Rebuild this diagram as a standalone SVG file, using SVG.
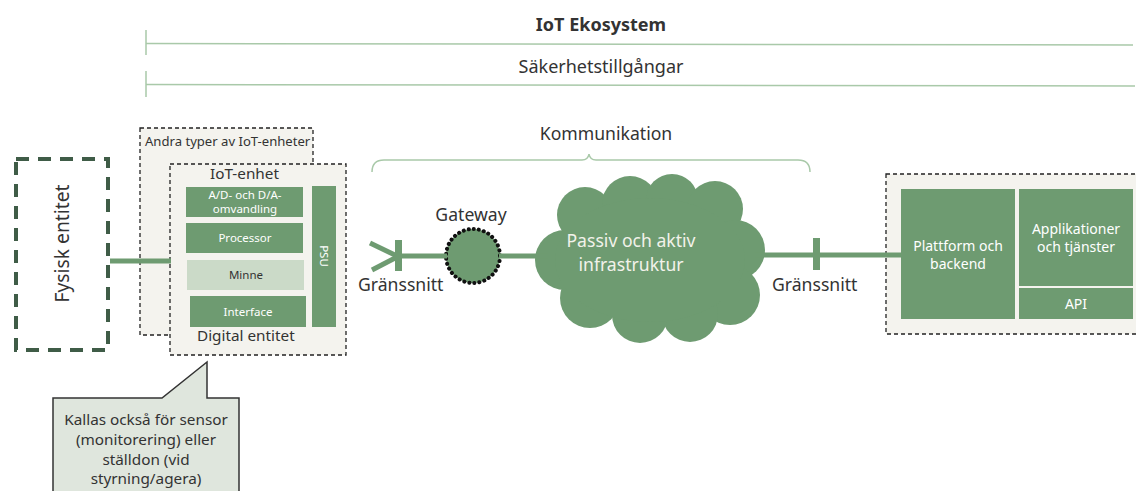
<svg xmlns="http://www.w3.org/2000/svg" width="1136" height="491" viewBox="0 0 1136 491">
  <style>
    text { font-family: "Noto Sans", "Open Sans", "Liberation Sans", sans-serif; fill: #333; }
    .hdr { font-size: 18px; text-anchor: middle; }
    .lbl { font-size: 17.6px; }
    .sub { font-size: 15.3px; }
    .wt { fill: #ffffff; font-size: 11.5px; text-anchor: middle; }
    .wt2 { fill: #ffffff; font-size: 14px; text-anchor: middle; }
    .blk { fill: #6e9b71; }
    .scope { stroke: #a9c9a9; stroke-width: 1.5; fill: none; }
    .wire { stroke: #6e9b71; stroke-width: 5; fill: none; }
    .frame { fill: #f4f3ee; stroke: #222; stroke-width: 1.3; stroke-dasharray: 4 3; }
  </style>

  <!-- scope bars -->
  <g id="scope">
    <text class="hdr" x="601" y="31" font-weight="bold" font-size="17.6">IoT Ekosystem</text>
    <line class="scope" x1="146" y1="30" x2="146" y2="55"/>
    <line class="scope" x1="146" y1="43.5" x2="1133" y2="45"/>
    <text class="hdr" x="601" y="73">Säkerhetstillgångar</text>
    <line class="scope" x1="146" y1="71" x2="146" y2="97"/>
    <line class="scope" x1="146" y1="84.5" x2="1135" y2="86"/>
  </g>

  <!-- physical entity -->
  <g id="fysisk-entitet">
    <rect x="16" y="159" width="92" height="191" fill="#ffffff" stroke="#3f5c47" stroke-width="4" stroke-dasharray="13 9"/>
    <text transform="translate(69 243.5) rotate(-90)" font-size="19.3" text-anchor="middle">Fysisk entitet</text>
  </g>

  <!-- other device types -->
  <g id="andra-typer">
    <rect class="frame" x="140" y="128" width="173" height="207"/>
    <text x="145" y="146" font-size="13.1">Andra typer av IoT-enheter</text>
  </g>

  <!-- IoT device -->
  <g id="iot-enhet">
    <rect class="frame" x="170" y="164" width="176" height="191"/>
    <text class="sub" x="210" y="179">IoT-enhet</text>
    <text class="sub" x="197" y="341">Digital entitet</text>
    <rect class="blk" x="186" y="187" width="117" height="30"/>
    <text class="wt" x="245" y="199">A/D- och D/A-</text>
    <text class="wt" x="245" y="213">omvandling</text>
    <rect class="blk" x="186" y="223" width="117" height="30"/>
    <text class="wt" x="245" y="242">Processor</text>
    <rect x="187" y="260" width="117" height="30" fill="#cbdac8"/>
    <text class="wt" x="246" y="279" style="fill:#333">Minne</text>
    <rect class="blk" x="190" y="296" width="116" height="31"/>
    <text class="wt" x="248" y="316">Interface</text>
    <rect class="blk" x="312" y="186" width="24" height="141"/>
    <text class="wt" transform="translate(320 256) rotate(90)">PSU</text>
  </g>

  <!-- communication brace -->
  <g id="kommunikation">
    <text class="lbl" x="606" y="140" text-anchor="middle">Kommunikation</text>
    <path class="scope" d="M372 172 Q372 160 384 160 L582 160 Q588 160 589 154 Q590 160 596 160 L798 160 Q810 160 810 172"/>
  </g>

  <!-- left interface label -->
  <g id="grans-vanster">
    <text class="lbl" x="358" y="291">Gränssnitt</text>
  </g>

  <!-- gateway -->
  <g id="gateway">
    <text class="lbl" x="471" y="221" text-anchor="middle">Gateway</text>
    <circle cx="473" cy="256" r="27" fill="#6e9b71" stroke="#111" stroke-width="4" stroke-dasharray="0.1 5" stroke-linecap="round"/>
  </g>

  <!-- infrastructure cloud -->
  <g id="infrastruktur" fill="#6e9b71">
    <circle cx="585" cy="215" r="28"/>
    <circle cx="630" cy="204" r="28"/>
    <circle cx="672" cy="200" r="26"/>
    <circle cx="715" cy="209" r="28"/>
    <circle cx="735" cy="250" r="30"/>
    <circle cx="730" cy="295" r="30"/>
    <circle cx="690" cy="314" r="28"/>
    <circle cx="640" cy="315" r="28"/>
    <circle cx="590" cy="298" r="30"/>
    <circle cx="565" cy="260" r="30"/>
    <ellipse cx="650" cy="260" rx="95" ry="62"/>
    <text x="631" y="247" text-anchor="middle" font-size="17.6" style="fill:#f2f2ea">Passiv och aktiv</text>
    <text x="631" y="271" text-anchor="middle" font-size="17.6" style="fill:#f2f2ea">infrastruktur</text>
  </g>

  <!-- right interface label -->
  <g id="grans-hoger">
    <text class="lbl" x="772" y="291">Gränssnitt</text>
  </g>

  <!-- backend -->
  <g id="backend">
    <rect class="frame" x="886" y="174" width="262" height="160"/>
    <rect class="blk" x="901" y="189" width="114" height="130"/>
    <text class="wt2" x="958" y="251">Plattform och</text>
    <text class="wt2" x="958" y="269">backend</text>
    <rect class="blk" x="1019" y="189" width="114" height="97"/>
    <text class="wt2" x="1076" y="234">Applikationer</text>
    <text class="wt2" x="1076" y="252">och tjänster</text>
    <rect class="blk" x="1019" y="288" width="114" height="31"/>
    <text class="wt2" x="1076" y="309">API</text>
  </g>

  <!-- callout -->
  <g id="callout">
    <path d="M53 498 L53 398 L162 398 L207 362 L207 398 L239 398 L239 498" fill="#dfe6dd" stroke="#333" stroke-width="1.5"/>
    <g font-size="15.3" text-anchor="middle">
      <text x="146" y="425">Kallas också för sensor</text>
      <text x="146" y="445">(monitorering) eller</text>
      <text x="146" y="465">ställdon (vid</text>
      <text x="146" y="484">styrning/agera)</text>
    </g>
  </g>

  <!-- connectors -->
  <g id="connectors">
    <line class="wire" x1="110" y1="261" x2="171" y2="261"/>
    <line class="wire" x1="370" y1="243" x2="397" y2="256"/>
    <line class="wire" x1="372" y1="270" x2="397" y2="257"/>
    <rect class="blk" x="395" y="240" width="7" height="31"/>
    <line class="wire" x1="400" y1="256" x2="447" y2="256"/>
    <line class="wire" x1="499" y1="256" x2="548" y2="256"/>
    <line class="wire" x1="755" y1="255" x2="902" y2="255"/>
    <rect class="blk" x="813" y="238" width="7" height="32"/>
  </g>
</svg>
